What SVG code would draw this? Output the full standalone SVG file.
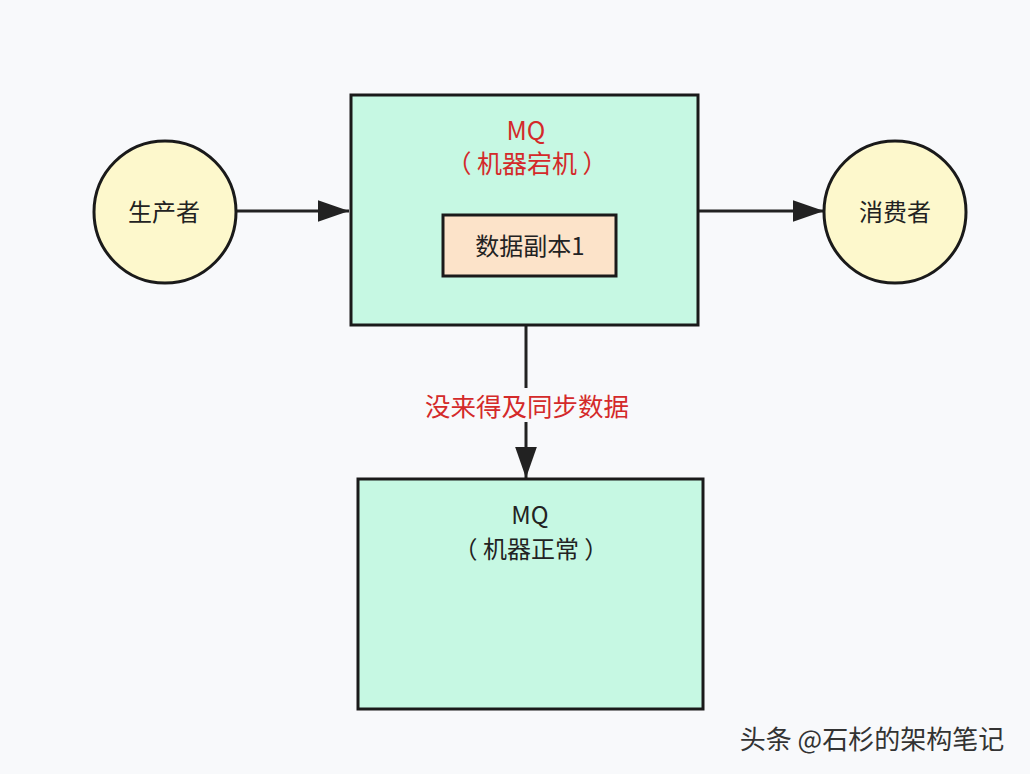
<svg xmlns="http://www.w3.org/2000/svg" width="1030" height="774" viewBox="0 0 1030 774">
<style>
text{font-family:"Noto Sans CJK SC","Liberation Sans",sans-serif;text-anchor:middle}
.box{fill:#c6f8e3;stroke:#1a1a1a;stroke-width:3}
.circ{fill:#fdf8cc;stroke:#1a1a1a;stroke-width:3}
.inner{fill:#fce3c9;stroke:#1a1a1a;stroke-width:3}
.lbl{font-size:24px;fill:#222}
.red{fill:#d42a2a}
.edge{stroke:#222;stroke-width:3;fill:none}
</style>
<defs>
<marker id="ah2" viewBox="0 0 10 10" refX="10" refY="5" markerWidth="31" markerHeight="31" markerUnits="userSpaceOnUse" orient="auto">
<path d="M0,1.5 L10,5 L0,8.5 z" fill="#222"/>
</marker>
</defs>
<rect width="1030" height="774" fill="#f8f9fb"/>
<g id="connectors">
<line class="edge" x1="236" y1="211" x2="349" y2="211" marker-end="url(#ah2)"/>
<line class="edge" x1="698" y1="211" x2="824" y2="211" marker-end="url(#ah2)"/>
<line class="edge" x1="526" y1="325" x2="526" y2="388"/>
<line class="edge" x1="526" y1="422" x2="526" y2="478" marker-end="url(#ah2)"/>
<text class="red" x="527" y="416" font-size="25.5">没来得及同步数据</text>
</g>
<g id="producer">
<circle class="circ" cx="165" cy="212" r="71"/>
<text class="lbl" x="164" y="221">生产者</text>
</g>
<g id="consumer">
<circle class="circ" cx="895" cy="212" r="71"/>
<text class="lbl" x="895" y="221">消费者</text>
</g>
<g id="mq-down">
<rect class="box" x="351" y="95" width="347" height="230"/>
<text class="red" x="526" y="140" font-size="25">MQ</text>
<text class="red" x="527" y="173" font-size="25">（ 机器宕机 ）</text>
</g>
<g id="replica">
<rect class="inner" x="443" y="215" width="173" height="61"/>
<text class="lbl" x="530" y="255" font-size="25">数据副本1</text>
</g>
<g id="mq-ok">
<rect class="box" x="358" y="479" width="345" height="230"/>
<text class="lbl" x="530" y="524" font-size="25">MQ</text>
<text class="lbl" x="531" y="558" font-size="25">（ 机器正常 ）</text>
</g>
<text x="872" y="749" font-size="26" fill="#333">头条 @石杉的架构笔记</text>
</svg>
